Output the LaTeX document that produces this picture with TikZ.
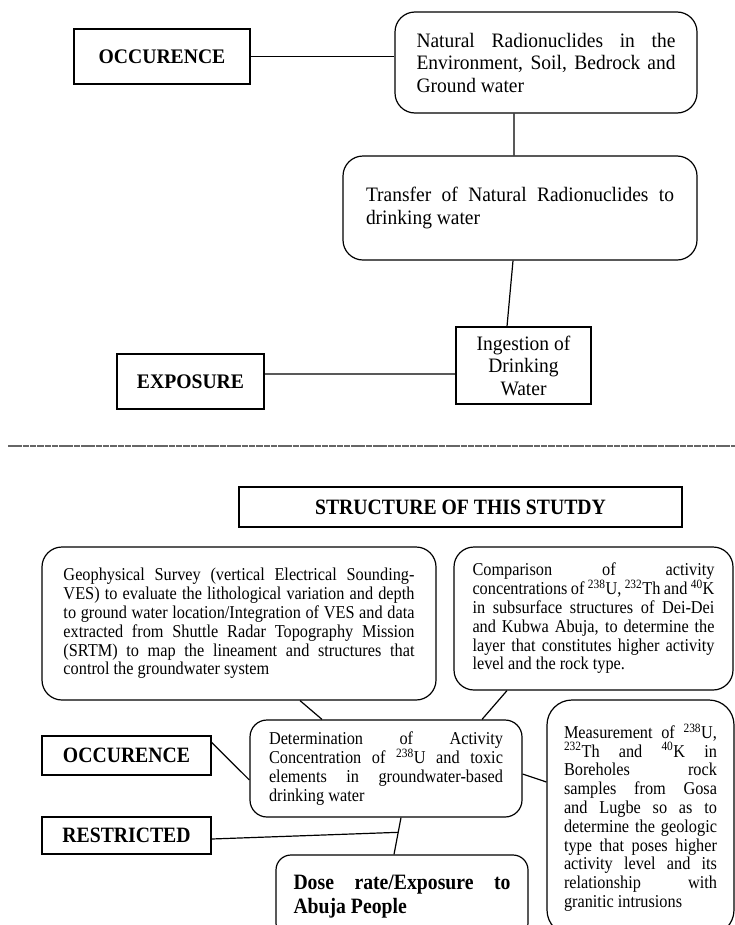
\documentclass[tikz,border=0pt]{standalone}
\usepackage{fontspec}
\setmainfont{Liberation Serif}
\newfontfamily\topserif[FakeStretch=0.95]{Liberation Serif}
\newfontfamily\lowserif[FakeStretch=0.9]{Liberation Serif}
\usepackage{tikz}
\tolerance=10000
\hbadness=10000
\hyphenpenalty=10000

\tikzset{
  sqbox/.style={draw, line width=1.2bp, inner sep=0pt, align=center},
  rbox/.style={draw, line width=1.2bp, rounded corners=20bp, inner sep=0pt, align=justify},
  bigtxt/.style={font=\topserif\fontsize{20.5bp}{22.5bp}\selectfont},
  topbold/.style={font=\topserif\fontsize{20.7bp}{24.5bp}\selectfont\bfseries},
  boldtxt/.style={font=\lowserif\fontsize{21.9bp}{24.5bp}\selectfont\bfseries},
  smalltxt/.style={font=\lowserif\fontsize{18.1bp}{18.8bp}\selectfont},
  link/.style={line width=1.2bp},
  sepline/.style={line width=1.3bp, gray!80!black, dash pattern=on 6.5bp off 0.8bp}
}

\begin{document}
\begin{tikzpicture}[x=1bp, y=-1bp]
  \path[use as bounding box] (0,0) rectangle (735,925);
  \clip (0,0) rectangle (735,925);

  \node (occ1) at (162,56.5) [sqbox, topbold, minimum width=176bp, minimum height=55bp] {OCCURENCE};
  \node (natural) at (546,62.5) [rbox, bigtxt, text width=259bp, minimum width=302bp, minimum height=101bp]
    {Natural Radionuclides in the\linebreak Environment, Soil, Bedrock and\linebreak Ground water};
  \node (transfer) at (520,208) [rbox, bigtxt, text width=308bp, minimum width=354bp, minimum height=104bp]
    {Transfer of Natural Radionuclides to\linebreak drinking water};
  \node (ingest) at (523.5,365.5) [sqbox, bigtxt, minimum width=135bp, minimum height=77bp]
    {Ingestion of\\ Drinking\\ Water};
  \node (expo) at (190.5,381.5) [sqbox, topbold, minimum width=147bp, minimum height=55bp] {EXPOSURE};

  \coordinate (sepL) at (8,446);
  \coordinate (sepR) at (735,446);
  \draw[sepline] (sepL) -- (sepR);

  \node (struct) at (460.5,507) [sqbox, boldtxt, minimum width=443bp, minimum height=40bp] {STRUCTURE OF THIS STUTDY};
  \node (geo) at (239,623.5) [rbox, smalltxt, text width=351bp, minimum width=394bp, minimum height=153bp]
    {Geophysical Survey (vertical Electrical Sounding-\linebreak VES) to evaluate the lithological variation and depth\linebreak to ground water location/Integration of VES and data\linebreak extracted from Shuttle Radar Topography Mission\linebreak (SRTM) to map the lineament and structures that\linebreak control the groundwater system};
  \node (comp) at (593.5,618.5) [rbox, smalltxt, text width=242bp, minimum width=279bp, minimum height=143bp]
    {Comparison of activity\linebreak concentrations of \textsuperscript{238}U, \textsuperscript{232}Th and \textsuperscript{40}K\linebreak in subsurface structures of Dei-Dei\linebreak and Kubwa Abuja, to determine the\linebreak layer that constitutes higher activity\linebreak level and the rock type.};
  \node (det) at (386,768.5) [rbox, smalltxt, rounded corners=17bp, text width=234bp, minimum width=272bp, minimum height=97bp]
    {Determination of Activity\linebreak Concentration of \textsuperscript{238}U and toxic\linebreak elements in groundwater-based\linebreak drinking water};
  \node (occ2) at (126.5,755.5) [sqbox, boldtxt, minimum width=169bp, minimum height=39bp] {OCCURENCE};
  \node (restr) at (126.5,835.5) [sqbox, boldtxt, minimum width=169bp, minimum height=37bp] {RESTRICTED};
  \node (dose) at (402,896.5) [rbox, boldtxt, rounded corners=15bp, text width=217bp, minimum width=252bp, minimum height=83bp]
    {Dose rate/Exposure to\linebreak Abuja People};
  \node (meas) at (640.5,817.5) [rbox, smalltxt, rounded corners=25bp, text width=153bp, minimum width=187bp, minimum height=235bp]
    {Measurement of \textsuperscript{238}U,\linebreak \textsuperscript{232}Th and \textsuperscript{40}K in\linebreak Boreholes rock\linebreak samples from Gosa\linebreak and Lugbe so as to\linebreak determine the geologic\linebreak type that poses higher\linebreak activity level and its\linebreak relationship with\linebreak granitic intrusions};

  \draw[link] (occ1.east) -- (occ1.east -| natural.west);
  \draw[link] ([xshift=-32bp]natural.south) -- ([xshift=-6bp]transfer.north);
  \draw[link] ([xshift=-7bp]transfer.south) -- ([xshift=-16.5bp]ingest.north);
  \draw[link] ([yshift=7.5bp]expo.east) -- ([yshift=-8.5bp]ingest.west);
  \draw[link] ([xshift=61bp]geo.south) -- ([xshift=-64bp]det.north);
  \draw[link] ([xshift=-86.5bp]comp.south) -- ([xshift=96bp]det.north);
  \draw[link] ([yshift=-7bp]occ2.north east) -- ([yshift=-11.5bp]det.west);
  \draw[link] ([yshift=-5.5bp]det.east) -- ([yshift=35.5bp]meas.west);
  \draw[link] ([xshift=15bp]det.south) -- coordinate[pos=0.4] (knot) ([xshift=-8bp]dose.north);
  \draw[link] ([yshift=-3.5bp]restr.east) -- (knot);
\end{tikzpicture}
\end{document}
